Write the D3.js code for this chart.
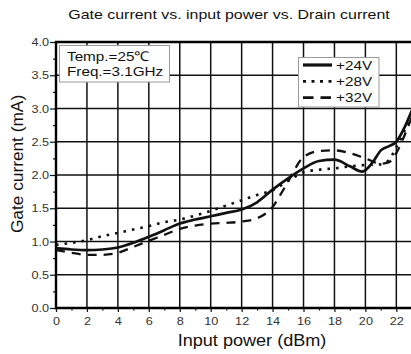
<!DOCTYPE html>
<html><head><meta charset="utf-8">
<script src="https://cdn.jsdelivr.net/npm/d3@7"></script>
<style>body{margin:0;background:#fff}svg{display:block}text{font-family:"Liberation Sans",Arial,sans-serif}</style>
</head><body><svg id="c" width="411" height="354"></svg>
<script>
// ---- data ----
const title = "Gate current vs. input power vs. Drain current";
const xLabel = "Input power (dBm)";
const yLabel = "Gate current (mA)";
const xTicks = [0,2,4,6,8,10,12,14,16,18,20,22];
const xMinor = [1,3,5,7,9,11,13,15,17,19,21,23];
const yTicks = [0,0.5,1,1.5,2,2.5,3,3.5,4];
const yMinor = [0.25,0.75,1.25,1.75,2.25,2.75,3.25,3.75];
const seriesNames = ["+24V","+28V","+32V"];
const x24 = [0,1,2,3,4,5,6,7,8,9,10,11,12,13,14,15,16,17,18,19,19.8,20.5,21,21.5,22,22.5,23];
const y24 = [0.90,0.88,0.87,0.88,0.91,0.98,1.07,1.17,1.27,1.33,1.38,1.43,1.48,1.59,1.78,1.95,2.10,2.21,2.23,2.13,2.05,2.20,2.37,2.43,2.50,2.70,2.97];
const x28 = [0,1,2,3,4,5,6,7,8,9,10,11,12,13,14,15,16,17,18,19,20,21,21.5,22,22.5,23];
const y28 = [0.95,0.98,1.02,1.08,1.13,1.18,1.23,1.29,1.33,1.39,1.46,1.54,1.62,1.70,1.77,1.91,2.04,2.08,2.10,2.13,2.15,2.16,2.22,2.42,2.65,2.92];
const x32 = [0,1,2,3,4,5,6,7,8,9,10,11,12,13,14,14.5,15,16,17,18,19,20,21,21.5,22,22.5,23];
const y32 = [0.87,0.83,0.80,0.80,0.83,0.92,1.01,1.10,1.19,1.24,1.27,1.28,1.30,1.35,1.52,1.70,1.90,2.27,2.36,2.37,2.33,2.25,2.17,2.19,2.33,2.58,2.87];
const annotation = ["Temp.=25\u2103","Freq.=3.1GHz"];

// ---- layout ----
const svg = d3.select("#c");
const L = 56, R = 411.8, T = 42, B = 308;
const x = d3.scaleLinear().domain([0,23]).range([L,R]);
const y = d3.scaleLinear().domain([0,4]).range([B,T]);
const K = 1.13;
function stretch(sel,k){ sel.each(function(){ const w=this.getComputedTextLength(); this.setAttribute("textLength", w*k); this.setAttribute("lengthAdjust","spacingAndGlyphs"); }); }

svg.append("defs").append("clipPath").attr("id","clip").append("rect")
  .attr("x",L).attr("y",T-2).attr("width",411-L).attr("height",B-T+4);

// grid
const g = svg.append("g");
g.selectAll(".vg").data(xTicks.filter(d=>d>0)).join("line")
  .attr("x1",d=>x(d)).attr("x2",d=>x(d)).attr("y1",T).attr("y2",B)
  .attr("stroke","#111").attr("stroke-width",1.5);
g.selectAll(".hg").data(yTicks.filter(d=>d>0&&d<4)).join("line")
  .attr("x1",L).attr("x2",411).attr("y1",d=>y(d)).attr("y2",d=>y(d))
  .attr("stroke","#111").attr("stroke-width",1.5);

// axes
const ya = svg.append("g").attr("transform",`translate(${L},0)`)
  .call(d3.axisLeft(y).tickValues(yTicks).tickSize(6).tickPadding(1).tickFormat(d3.format(".1f")));
ya.select(".domain").remove();
ya.selectAll("line").attr("stroke","#111").attr("stroke-width",1.2);
ya.selectAll("text").attr("font-size",11.5).attr("fill","#333").attr("font-family","Liberation Sans, Arial, sans-serif");
const ym = svg.append("g").attr("transform",`translate(${L},0)`)
  .call(d3.axisLeft(y).tickValues(yMinor).tickSize(3).tickFormat(""));
ym.select(".domain").remove();
ym.selectAll("line").attr("stroke","#111").attr("stroke-width",1.2);

const xa = svg.append("g").attr("transform",`translate(0,${B})`)
  .call(d3.axisBottom(x).tickValues(xTicks).tickSize(4).tickPadding(5));
xa.select(".domain").remove();
xa.selectAll("line").attr("stroke","#111").attr("stroke-width",1.2);
xa.selectAll("text").attr("font-size",11.5).attr("fill","#333").attr("font-family","Liberation Sans, Arial, sans-serif");
const xm = svg.append("g").attr("transform",`translate(0,${B})`)
  .call(d3.axisBottom(x).tickValues(xMinor).tickSize(2.5).tickFormat(""));
xm.select(".domain").remove();
xm.selectAll("line").attr("stroke","#111").attr("stroke-width",1.2);
stretch(ya.selectAll("text"),1.1);
stretch(xa.selectAll("text"),1.1);

// spines
svg.append("line").attr("x1",L).attr("x2",L).attr("y1",T-1).attr("y2",B+1.2).attr("stroke","#000").attr("stroke-width",2.4);
svg.append("line").attr("x1",L-1).attr("x2",411).attr("y1",T).attr("y2",T).attr("stroke","#000").attr("stroke-width",2.4);
svg.append("line").attr("x1",L-1).attr("x2",411).attr("y1",B).attr("y2",B).attr("stroke","#000").attr("stroke-width",2.4);

// series
const styles = [
  {w:2.7, dash:null},
  {w:2.6, dash:"2.6,6"},
  {w:2.3, dash:"9,7"}
];
const data = [d3.zip(x24,y24), d3.zip(x28,y28), d3.zip(x32,y32)];
const line = d3.line().x(d=>x(d[0])).y(d=>y(d[1])).curve(d3.curveMonotoneX);
const lg = svg.append("g").attr("clip-path","url(#clip)");
data.forEach((s,i)=>{
  lg.append("path").attr("d",line(s)).attr("fill","none").attr("stroke","#111")
    .attr("stroke-width",styles[i].w).attr("stroke-dasharray",styles[i].dash);
});

// annotation box
svg.append("rect").attr("x",59.5).attr("y",45.5).attr("width",110).attr("height",36.5)
  .attr("fill","#fff").attr("stroke","#999").attr("stroke-width",1);
svg.selectAll(".ann").data(annotation).join("text")
  .attr("x",67).attr("y",(d,i)=>60.5+i*15.6).attr("font-size",13.5).attr("fill","#111").text(d=>d)
  .call(stretch,K);

// legend
const leg = svg.append("g");
leg.append("rect").attr("x",298.5).attr("y",57.5).attr("width",80.5).attr("height",49.5)
  .attr("fill","#fff").attr("stroke","#999").attr("stroke-width",1);
seriesNames.forEach((n,i)=>{
  const yy = 65+i*16.3;
  leg.append("line").attr("x1",303).attr("x2",332).attr("y1",yy).attr("y2",yy)
    .attr("stroke","#111").attr("stroke-width",i===0?3.2:2.8).attr("stroke-dasharray",i===0?null:(i===1?"3,5.5":"10.5,7"));
  leg.append("text").attr("x",336).attr("y",yy+4.8).attr("font-size",13.5).attr("fill","#111").text(n).call(stretch,K);
});

// titles
svg.append("text").attr("x",229).attr("y",19).attr("text-anchor","middle").attr("font-size",13.5).attr("fill","#111").text(title).call(stretch,1.18);
svg.append("text").attr("x",252).attr("y",346).attr("text-anchor","middle").attr("font-size",16).attr("fill","#111").text(xLabel).call(stretch,K);
svg.append("text").attr("transform","translate(23,164) rotate(-90)").attr("text-anchor","middle").attr("font-size",16).attr("fill","#111").text(yLabel).call(stretch,1.08);
</script></body></html>
